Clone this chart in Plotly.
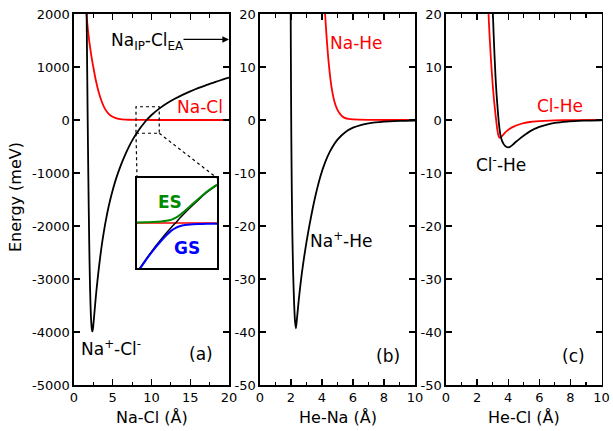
import plotly.graph_objects as go

# ---------------- data ----------------
# Panel (a): Na-Cl distance (Angstrom) vs energy (meV)
nacl_cov_r = [1.55, 1.6, 1.7, 1.8, 1.9, 2.0, 2.25, 2.5, 2.8, 3.2, 3.6, 4.0, 4.5, 5.0, 5.5, 6.0, 7.0, 8.0, 10.0, 12.0, 15.0, 20.0]
nacl_cov_e = [2300, 2050, 1850, 1700, 1570, 1450, 1200, 990, 760, 520, 340, 210, 110, 60, 30, 15, 5, 2, 0, 0, 0, 0]

nacl_ion_r = [1.6, 1.65, 1.7, 1.75, 1.8, 1.85, 1.9, 1.95, 2.0, 2.05, 2.1, 2.15, 2.2, 2.25, 2.3, 2.37,
              2.45, 2.55, 2.67, 2.8, 2.95, 3.1, 3.3, 3.5, 3.75, 4.0, 4.3, 4.65, 5.0, 5.4, 6.0, 6.5, 7.0, 7.5,
              8.0, 8.5, 9.0, 9.5, 10.0, 11.0, 12.0, 13.0, 14.0, 15.0, 16.0, 17.0, 18.0, 19.0, 20.0]
nacl_ion_e = [2450, 1700, 950, 230, -450, -1080, -1650, -2170, -2630, -3020, -3330, -3570, -3750, -3870, -3950, -3990,
              -3930, -3780, -3580, -3360, -3140, -2930, -2680, -2450, -2200, -1980, -1750, -1520, -1320, -1120, -870, -690, -530, -390,
              -270, -160, -65, 20, 95, 215, 315, 400, 475, 540, 600, 655, 705, 755, 800]

# Inset (zoom of the crossing region)
inset_r = [8.0, 8.3, 8.6, 8.9, 9.1, 9.3, 9.44, 9.6, 9.8, 10.0, 10.3, 10.6, 11.0]
inset_cov = [0, 0, 0, 0, 0, 0, 0, 0, 0, 0, 0, 0, 0]
inset_ion = [-274, -209, -148, -92, -56, -22, 0, 26, 57, 86, 128, 168, 210]
inset_es = [3, 4, 5, 8, 12, 19, 28, 44, 68, 94, 134, 172, 213]
inset_gs = [-277, -213, -153, -100, -68, -41, -28, -18, -11, -8, -6, -4.5, -3.5]

# Panel (b): He-Na distance vs energy (meV)
nahe_r = [4.15, 4.2, 4.3, 4.4, 4.5, 4.6, 4.7, 4.8, 4.9, 5.0, 5.2, 5.4, 5.7, 6.0, 7.0, 8.0, 10.0]
nahe_e = [23, 20, 15.5, 11.8, 8.8, 6.5, 4.8, 3.5, 2.6, 1.9, 1.0, 0.5, 0.2, 0.1, 0.02, 0, 0]

naphe_r = [1.96, 1.98, 2.0, 2.02, 2.05, 2.09, 2.14, 2.2, 2.26, 2.32, 2.4, 2.5, 2.6, 2.7, 2.85, 3.0, 3.2, 3.4, 3.6,
           3.9, 4.2, 4.5, 5.0, 5.5, 6.0, 6.5, 7.0, 8.0, 9.0, 10.0]
naphe_e = [33, 20, 7, -3, -13, -22, -29, -34.5, -38, -39.3, -37.0, -34.0, -31.3, -28.9, -25.8, -23.0, -19.7, -16.7, -14.0,
           -10.6, -8.0, -6.0, -3.7, -2.3, -1.45, -0.95, -0.62, -0.3, -0.17, -0.1]

# Panel (c): He-Cl distance vs energy (meV)
clhe_r = [2.68, 2.73, 2.8, 2.9, 3.0, 3.1, 3.2, 3.26, 3.31, 3.36, 3.42, 3.48, 3.56, 3.66, 3.78, 3.92, 4.1, 4.35, 4.7, 5.0, 5.4, 5.8, 6.3, 7.0, 8.0, 10.0]
clhe_e = [23.5, 20.3, 16.0, 11.0, 6.8, 3.4, 0.6, -0.9, -2.0, -2.8, -3.25, -3.3, -3.15, -2.85, -2.45, -2.05, -1.65, -1.25, -0.85, -0.6, -0.38, -0.25, -0.15, -0.07, -0.03, 0]

clmhe_r = [2.97, 3.01, 3.06, 3.12, 3.18, 3.25, 3.33, 3.4, 3.5, 3.6, 3.7, 3.8, 3.9, 4.02, 4.15, 4.3, 4.5, 4.77, 5.1, 5.42,
           6.0, 6.5, 7.0, 7.8, 8.5, 9.2, 10.0]
clmhe_e = [24, 20.5, 16.5, 12.2, 8.4, 4.9, 1.8, -0.6, -2.8, -3.9, -4.5, -4.9, -5.1, -5.16, -5.0, -4.65, -4.1, -3.46, -2.75, -2.1,
           -1.3, -0.85, -0.55, -0.3, -0.18, -0.1, -0.06]

asymptote_ip_ea = 1520  # Na IP - Cl EA (meV)

# tick labels
a_xticks = [0, 5, 10, 15, 20]
a_xlabels = ["0", "5", "10", "15", "20"]
a_yticks = [2000, 1000, 0, -1000, -2000, -3000, -4000, -5000]
a_ylabels = ["2000", "1000", "0", "-1000", "-2000", "-3000", "-4000", "-5000"]
bc_xticks = [0, 2, 4, 6, 8, 10]
bc_xlabels = ["0", "2", "4", "6", "8", "10"]
bc_yticks = [20, 10, 0, -10, -20, -30, -40, -50]
bc_ylabels = ["20", "10", "0", "-10", "-20", "-30", "-40", "-50"]

# ---------------- layout geometry ----------------
W, H = 613, 431
def px_x(p):
    return p / W
def px_y(p):
    return 1 - p / H

dom_a = [px_x(74), px_x(229)]
dom_b = [px_x(260), px_x(415)]
dom_c = [px_x(446), px_x(601.5)]
dom_y = [px_y(385), px_y(14)]
dom_ix = [px_x(137), px_x(217)]
dom_iy = [px_y(268), px_y(178)]

FONT = "DejaVu Sans"
RED = "#ff0000"
BLACK = "#000000"
GREEN = "#008a00"
BLUE = "#0000ff"

fig = go.Figure()

def line(x, y, color, xa, ya, w=1.8):
    fig.add_trace(go.Scatter(x=x, y=y, mode="lines", line=dict(color=color, width=w, shape="spline", smoothing=0.6),
                             xaxis=xa, yaxis=ya, showlegend=False, hoverinfo="skip"))

line(nacl_cov_r, nacl_cov_e, RED, "x", "y")
line(nacl_ion_r, nacl_ion_e, BLACK, "x", "y")
line(nahe_r, nahe_e, RED, "x2", "y2")
line(naphe_r, naphe_e, BLACK, "x2", "y2")
line(clhe_r, clhe_e, RED, "x3", "y3")
line(clmhe_r, clmhe_e, BLACK, "x3", "y3")
line(inset_r, inset_cov, RED, "x4", "y4", 1.5)
line(inset_r, inset_ion, BLACK, "x4", "y4", 1.5)
line(inset_r, inset_es, GREEN, "x4", "y4", 2)
line(inset_r, inset_gs, BLUE, "x4", "y4", 2)

tickfont = dict(family=FONT, size=13, color="black")
base = dict(showline=True, linecolor="black", linewidth=1.6, mirror="ticks", ticks="inside",
            ticklen=6, tickwidth=1.4, tickcolor="black", showgrid=False, zeroline=False,
            tickfont=tickfont, tickmode="array", fixedrange=True, automargin=False)
minor_a = dict(ticks="inside", ticklen=3.5, tickwidth=1.2, tickcolor="black", tickvals=[2.5, 7.5, 12.5, 17.5])
minor_bc = dict(ticks="inside", ticklen=3.5, tickwidth=1.2, tickcolor="black", tickvals=[1, 3, 5, 7, 9])
inset_ax = dict(showline=True, linecolor="black", linewidth=1.6, mirror=True, ticks="", showticklabels=False,
                showgrid=False, zeroline=False, fixedrange=True, automargin=False)

fig.update_layout(
    width=W, height=H, autosize=False,
    margin=dict(l=0, r=0, t=0, b=0, pad=0, autoexpand=False),
    paper_bgcolor="white", plot_bgcolor="rgba(0,0,0,0)",
    xaxis=dict(base, domain=dom_a, range=[0, 20], tickvals=a_xticks, ticktext=a_xlabels, anchor="y", minor=minor_a),
    yaxis=dict(base, domain=dom_y, range=[-5000, 2000], tickvals=a_yticks, ticktext=a_ylabels, anchor="x"),
    xaxis2=dict(base, domain=dom_b, range=[0, 10], tickvals=bc_xticks, ticktext=bc_xlabels, anchor="y2", minor=minor_bc),
    yaxis2=dict(base, domain=dom_y, range=[-50, 20], tickvals=bc_yticks, ticktext=bc_ylabels, anchor="x2"),
    xaxis3=dict(base, domain=dom_c, range=[0, 10], tickvals=bc_xticks, ticktext=bc_xlabels, anchor="y3", minor=minor_bc),
    yaxis3=dict(base, domain=dom_y, range=[-50, 20], tickvals=bc_yticks, ticktext=bc_ylabels, anchor="x3"),
    xaxis4=dict(inset_ax, domain=dom_ix, range=[8, 11], anchor="y4"),
    yaxis4=dict(inset_ax, domain=dom_iy, range=[-250, 250], anchor="x4"),
)

# dotted zoom box and connectors
def a_to_paper(xv, yv):
    px = dom_a[0] + (xv - 0) / 20 * (dom_a[1] - dom_a[0])
    py = dom_y[0] + (yv + 5000) / 7000 * (dom_y[1] - dom_y[0])
    return px, py

dot = dict(color="black", width=1.2, dash="dot")
fig.add_shape(type="rect", xref="x", yref="y", x0=8, x1=11, y0=-250, y1=250, line=dot)
bl = a_to_paper(8, -250)
br = a_to_paper(11, -250)
fig.add_shape(type="line", xref="paper", yref="paper", x0=bl[0], y0=bl[1], x1=dom_ix[0], y1=dom_iy[1], line=dot)
fig.add_shape(type="line", xref="paper", yref="paper", x0=br[0], y0=br[1], x1=dom_ix[1], y1=dom_iy[1], line=dot)

ann_font = dict(family=FONT, size=17, color="black")
red_font = dict(family=FONT, size=17, color=RED)

def note(text, x, y, xref, yref, font):
    fig.add_annotation(text=text, x=x, y=y, xref=xref, yref=yref, showarrow=False, font=font,
                       xanchor="center", yanchor="middle")

note("Na-Cl", 16.26, 250, "x", "y", red_font)
note("Na<sup>+</sup>-Cl<sup>-</sup>", 4.75, -4300, "x", "y", ann_font)
note("(a)", 16.4, -4420, "x", "y", ann_font)
note("Na<sub>IP</sub>-Cl<sub>EA</sub>", 9.5, 1480, "x", "y", ann_font)
fig.add_annotation(text="", x=20, y=asymptote_ip_ea, xref="x", yref="y", ax=-47, ay=0,
                   showarrow=True, arrowhead=2, arrowsize=1.1, arrowwidth=1.2, arrowcolor="black")

note("Na-He", 6.24, 14.5, "x2", "y2", red_font)
note("Na<sup>+</sup>-He", 5.24, -22.6, "x2", "y2", ann_font)
note("(b)", 8.23, -44.5, "x2", "y2", ann_font)

note("Cl-He", 7.3, 2.7, "x3", "y3", red_font)
note("Cl<sup>-</sup>-He", 3.54, -8.3, "x3", "y3", ann_font)
note("(c)", 8.21, -44.5, "x3", "y3", ann_font)

note("<b>ES</b>", 9.23, 118, "x4", "y4", dict(family=FONT, size=17, color=GREEN))
note("<b>GS</b>", 9.86, -140, "x4", "y4", dict(family=FONT, size=17, color=BLUE))

# axis titles
title_font = dict(family=FONT, size=16, color="black")
fig.add_annotation(text="Energy (meV)", x=px_x(15), y=px_y(197), xref="paper", yref="paper",
                   showarrow=False, textangle=-90, font=title_font, xanchor="center", yanchor="middle")
for dom, t in [(dom_a, "Na-Cl (Å)"), (dom_b, "He-Na (Å)"), (dom_c, "He-Cl (Å)")]:
    fig.add_annotation(text=t, x=(dom[0] + dom[1]) / 2, y=px_y(417), xref="paper", yref="paper",
                       showarrow=False, font=title_font, xanchor="center", yanchor="middle")

fig.write_html("out.html", config={"displayModeBar": False, "staticPlot": True},
               post_script="document.body.style.margin='0px';")
